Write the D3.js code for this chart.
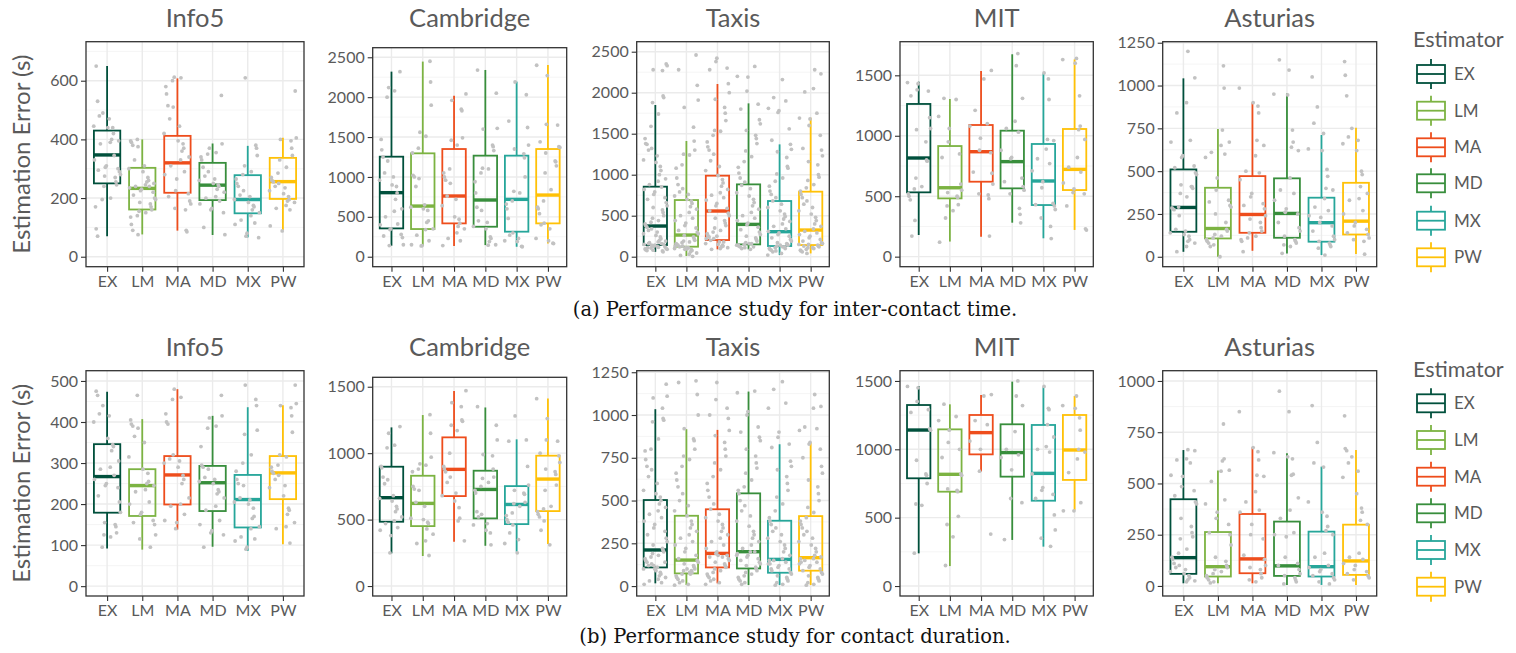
<!DOCTYPE html>
<html>
<head>
<meta charset="utf-8">
<script src="https://cdn.jsdelivr.net/npm/d3@7"></script>
<style>
body { margin: 0; background: #fff; }
svg { display: block; }
</style>
</head>
<body>
<svg id="chart" width="1516" height="653"></svg>
<script>
// estimators and their colours
var estimators = ["EX", "LM", "MA", "MD", "MX", "PW"];
var colors = ["#00503c", "#7cb342", "#ee4d1c", "#388e3c", "#26a69a", "#ffc107"];
var datasets = ["Info5", "Cambridge", "Taxis", "MIT", "Asturias"];

// box stats per estimator: [lower whisker, q1, median, q3, upper whisker]
// (a) inter-contact time
var info5A_box = [[70,250,347,430,650],[76,161,233,303,400],[89,218,320,412,608],[74,193,244,320,386],[66,148,195,278,378],[91,197,256,337,406]];
var cambA_box = [[138,355,803,1254,2320],[134,347,635,1296,2446],[134,418,761,1350,2019],[146,376,711,1267,2341],[125,314,719,1267,2195],[167,418,773,1350,2404]];
var taxisA_box = [[60,142,374,854,1850],[8,122,264,691,1411],[90,203,557,988,2106],[90,150,394,882,1870],[20,130,305,679,1370],[40,142,325,793,1695]];
var mitA_box = [[179,532,816,1263,1447],[125,482,570,915,1304],[165,620,868,1089,1536],[281,565,786,1042,1674],[152,427,626,932,1516],[221,551,722,1056,1632]];
var astA_box = [[29,146,288,510,1042],[0,107,165,403,746],[35,140,247,471,901],[19,111,253,458,954],[10,88,199,345,711],[16,130,208,432,754]];
// (b) contact duration
var info5B_box = [[92,179,267,346,474],[89,171,245,285,407],[138,199,271,317,480],[96,183,252,293,415],[86,143,211,271,436],[102,212,276,317,441]];
var cambB_box = [[246,484,665,898,1194],[226,451,622,830,1287],[334,677,878,1119,1467],[303,509,727,868,1344],[258,466,614,752,1104],[316,564,805,981,1412]];
var taxisB_box = [[16,109,211,503,1034],[6,74,152,411,917],[16,109,191,449,913],[6,103,201,542,1137],[6,78,156,382,829],[6,90,166,409,840]];
var mitB_box = [[239,788,1141,1324,1463],[146,690,817,1146,1329],[837,963,1122,1251,1398],[337,800,976,1183,1495],[288,624,824,1178,1454],[556,776,995,1251,1390]];
var astB_box = [[13,59,138,423,663],[13,46,94,263,563],[13,62,132,351,676],[5,49,98,314,647],[5,46,94,265,582],[5,54,122,299,663]];

// individual observations (jittered grey points)
var info5A_pts = [
  [650,530,490,480,470,445,440,440,420,400,395,390,385,345,330,310,305,300,295,290,280,275,270,255,245,240,200,195,170,95,70],
  [400,395,390,380,375,330,310,300,290,270,260,255,250,245,240,240,235,230,225,220,210,200,195,185,180,170,160,155,150,140,135,110,90,75],
  [612,610,600,580,555,515,510,470,445,420,395,385,370,360,340,330,310,290,280,265,225,215,205,190,180,165,160,90,85],
  [550,385,370,355,350,340,330,305,290,275,265,260,250,245,240,230,220,205,200,190,180,165,160,150,100,75],
  [610,380,370,345,310,290,280,265,250,240,225,210,205,195,185,175,170,160,150,140,125,115,110,80,70,65],
  [565,405,400,395,370,345,330,305,285,270,260,255,250,240,235,225,215,205,195,190,185,175,165,160,105,88]];
var cambA_pts = [
  [2320,2120,2080,2000,1470,1340,1250,1200,1050,1000,960,900,880,800,720,600,570,500,410,400,350,340,280,260,240,150,140],
  [2450,2190,1900,1560,1510,1360,1300,1020,1000,980,880,650,620,600,580,450,430,350,340,270,200,150,140,135],
  [2040,1960,1850,1830,1490,1460,1400,1100,1050,1000,960,920,760,720,640,500,470,420,380,350,300,230,200,140],
  [2340,2050,1610,1600,1400,1380,1330,1110,1100,1050,940,800,620,580,450,430,380,350,250,230,190,150,145],
  [2190,2030,1700,1620,1400,1350,1290,1240,1000,820,800,700,660,600,480,300,270,230,200,190,130,125],
  [2400,2270,1660,1650,1440,1380,1370,1300,1200,1190,1140,1050,840,700,620,600,540,420,400,350,230,200,170,165]];
var taxisA_pts = [
  [2350,2330,2280,2270,1960,1940,1880,1740,1590,1440,1380,1370,1320,1300,1230,1180,1150,1100,1050,1000,950,920,880,850,820,790,760,720,700,660,620,600,570,540,500,470,440,420,400,380,360,340,320,300,280,260,240,220,200,190,180,170,160,150,140,130,120,110,100,90,80,70,60,150,130,115,105,95,85,75,140,160,125],
  [2460,2280,2090,1910,1820,1580,1410,1300,1250,1240,1120,1080,960,880,830,790,760,740,700,680,650,610,580,540,500,470,440,410,380,350,320,300,280,260,240,220,200,190,180,170,160,150,140,130,120,110,100,95,85,75,60,45,30,15,5,130,110,90],
  [2420,2380,2300,2280,2110,2000,1920,1820,1750,1660,1540,1530,1480,1400,1340,1300,1250,1170,1100,1050,990,940,900,860,820,780,750,720,690,650,620,590,560,530,500,470,440,410,380,350,320,300,280,260,240,220,200,180,160,150,140,130,120,110,100,90,180,220,250],
  [2320,2200,2190,2020,1860,1800,1670,1620,1540,1480,1440,1380,1290,1220,1160,1090,1020,960,910,870,830,780,740,700,660,620,580,540,500,470,440,410,390,360,330,300,270,250,230,210,190,170,160,150,140,130,120,110,100,90,140,160,120],
  [2160,1940,1900,1810,1780,1760,1560,1420,1370,1310,1280,1210,1100,1080,1010,960,920,860,800,760,720,680,640,600,560,520,490,460,430,400,370,340,310,290,270,250,230,210,190,170,160,150,140,130,120,110,100,90,80,70,60,40,20,140,120,100],
  [2280,2230,2050,2010,1750,1690,1680,1600,1480,1320,1300,1230,1160,1120,1000,970,930,880,840,800,760,720,680,640,600,560,520,480,440,400,370,340,310,290,270,250,230,210,190,170,160,150,140,130,120,110,100,90,80,70,60,40,130,110,150]];
var mitA_pts = [
  [1440,1430,1380,1370,1330,1150,1060,1050,950,800,790,650,580,560,520,500,470,300,170],
  [1310,1300,1160,1060,950,850,820,600,550,530,500,490,430,420,380,320,120],
  [1540,1470,1210,1100,1080,980,880,860,700,690,600,520,510,480,170],
  [1680,1580,1310,1120,1060,1030,880,820,810,650,620,580,550,520,400,350,280],
  [1520,1470,1300,970,960,890,810,770,710,620,570,440,430,420,390,320,250,150],
  [1640,1630,1600,1330,1080,1050,970,820,740,700,610,560,530,520,420,230,220]];
var astA_pts = [
  [1200,1045,900,840,680,670,590,580,530,520,490,480,420,410,410,400,370,350,290,285,280,275,240,160,150,140,130,120,100,90,80,60,30],
  [1115,985,740,670,650,610,600,580,460,390,330,320,300,290,250,200,160,150,130,120,110,100,90,80,70,60,0],
  [985,900,880,840,680,650,590,500,490,450,370,350,310,300,280,240,220,200,170,150,140,120,110,100,90,30],
  [1150,1090,950,945,740,670,640,620,460,390,370,330,280,260,250,200,170,150,120,100,90,80,70,60,20],
  [1050,875,780,720,630,620,510,470,400,390,340,290,270,240,230,200,180,150,120,100,90,80,70,60,50,10],
  [1140,1060,940,750,700,680,660,620,500,480,410,370,340,330,270,250,200,180,160,140,130,110,100,90,15]];
var info5B_pts = [
  [475,465,440,420,415,400,360,345,340,330,305,290,285,270,260,250,245,240,220,205,180,155,150,145,130,125,120,95],
  [465,405,395,390,385,365,350,315,285,275,255,250,245,235,230,205,200,180,175,160,155,150,125,115,95],
  [480,460,455,420,400,395,320,310,305,300,290,270,260,250,215,200,195,175,160,155,140],
  [465,415,410,390,385,340,295,290,285,265,260,255,250,235,230,225,215,195,185,160,150,135,130,125,95],
  [490,455,440,380,370,320,300,280,260,250,245,215,210,205,200,190,170,165,145,140,120,115,110,95,90],
  [490,445,440,435,415,375,320,315,295,290,280,275,270,260,245,240,220,190,185,175,155,145,140,105]];
var cambB_pts = [
  [1200,1150,1060,1040,900,890,820,800,770,680,660,640,600,580,560,520,490,470,440,420,380,250],
  [1290,1150,970,920,910,880,860,750,730,720,630,600,510,500,480,470,430,390,340,320,230],
  [1470,1380,1350,1250,1240,1210,1170,1000,900,880,860,820,780,700,680,640,590,510,490,340],
  [1350,1210,1100,990,980,880,820,810,780,750,720,700,560,540,520,470,460,420,400,310],
  [1280,1100,1090,900,760,720,700,690,630,620,600,550,530,500,480,460,400,350,320,250],
  [1410,1260,1100,1090,1000,980,930,880,860,840,760,720,600,580,560,540,520,490,420,310]];
var taxisB_pts = [
  [1180,1110,1100,1040,980,970,960,860,800,790,740,700,680,640,600,560,540,520,500,480,460,440,420,400,380,360,340,320,300,280,260,240,220,210,200,190,180,170,160,150,140,130,120,110,100,90,80,70,60,50,40,30,20,10,100,120,140],
  [1200,1190,1120,1000,920,860,850,800,760,740,700,660,620,580,540,500,470,440,410,380,360,340,320,300,280,260,240,220,200,180,160,150,140,130,120,110,100,90,80,70,60,50,40,30,20,10,5,100,90,80,70],
  [1190,1090,1040,1000,980,910,880,840,800,760,720,680,640,600,560,520,480,450,420,400,380,360,340,320,300,280,260,240,220,200,190,180,170,160,150,140,130,120,110,100,90,80,70,60,50,40,30,20,10,180,170],
  [1140,1130,1020,1000,930,900,870,850,800,760,720,690,660,620,580,560,540,500,470,440,410,380,350,320,300,280,260,240,220,200,190,180,170,160,150,140,130,120,110,100,90,80,70,60,50,40,30,20,10,200,180],
  [1195,1150,1070,1040,900,870,830,810,730,700,680,640,600,560,520,480,440,400,380,360,340,320,300,280,260,240,220,200,180,160,150,140,130,120,110,100,90,80,70,60,50,40,30,20,10,5,150,130,100],
  [1120,1050,1040,930,920,910,840,830,800,750,700,660,620,580,540,500,460,430,400,380,360,340,320,300,280,260,240,220,200,180,170,160,150,140,130,120,110,100,90,80,70,60,50,40,30,20,10,5,160,140]];
var mitB_pts = [
  [1460,1450,1350,1290,1270,1150,1140,920,820,810,750,600,590,240],
  [1330,1240,1210,1140,1050,1000,940,820,810,710,700,690,510,450,360,150],
  [1400,1390,1210,1180,1060,1000,840,380],
  [1500,1390,1320,1130,1000,960,940,850,640,610,340],
  [1460,1300,1290,1180,1090,1020,1000,980,820,720,700,670,640,520,410,350,290],
  [1390,1320,1300,1230,1140,1000,980,930,830,610,550,550]];
var astB_pts = [
  [665,660,620,615,600,540,535,485,465,440,410,400,330,290,260,240,230,180,160,140,130,110,100,90,80,70,60,50,40,30,25,20],
  [790,620,610,565,560,510,420,400,360,330,300,260,250,200,140,120,100,90,80,70,60,50,40,30,20,15],
  [850,675,655,615,540,535,460,410,370,360,300,250,230,150,130,100,90,80,60,40,30,20],
  [950,850,650,630,620,545,540,430,370,330,260,250,240,140,110,100,80,60,50,40,30,20,10],
  [880,700,600,580,410,360,340,290,270,250,160,140,100,90,80,70,60,50,40,30,20,10],
  [830,670,660,630,600,560,530,450,380,360,320,300,160,140,130,110,100,80,70,60,50,40,30]];

// y tick steps per panel
var tickStepA = [200, 500, 500, 500, 250];
var tickStepB = [100, 500, 250, 500, 250];
// y scale limits per panel (as in the original plots)
var limitsA = [[-34, 733], [-125, 2620], [-122, 2622], [-83, 1778], [-58, 1256]];
var limitsB = [[-24, 525], [-75, 1571], [-58, 1259], [-73, 1575], [-49, 1050]];

// layout
var panelX = [[86, 304], [372.7, 566.7], [636.7, 829.3], [900, 1093.3], [1162.7, 1376.7]];
var rows = [
    { boxes: [info5A_box, cambA_box, taxisA_box, mitA_box, astA_box],
      pts: [info5A_pts, cambA_pts, taxisA_pts, mitA_pts, astA_pts],
      limits: limitsA, steps: tickStepA,
      tops: [41.7, 47.7, 41.7, 41.7, 41.7], bottom: 266.7, titleY: 27,
      caption: "(a)  Performance study for inter-contact time.", captionY: 316,
      legendTitleY: 47, legendY: [74, 110.7, 147.3, 183.3, 220.7, 257.3] },
    { boxes: [info5B_box, cambB_box, taxisB_box, mitB_box, astB_box],
      pts: [info5B_pts, cambB_pts, taxisB_pts, mitB_pts, astB_pts],
      limits: limitsB, steps: tickStepB,
      tops: [370.7, 377.3, 370.7, 370.7, 370.7], bottom: 596, titleY: 356,
      caption: "(b)  Performance study for contact duration.", captionY: 643,
      legendTitleY: 377, legendY: [403.3, 440, 476.7, 513.3, 550, 586.7] }
];

var jitter = [-0.31, 0.18, -0.05, 0.27, -0.22, 0.09, 0.35, -0.14, 0.02, -0.36, 0.23, -0.27, 0.13, 0.31,
              -0.09, 0.06, -0.19, 0.38, -0.33, 0.16, -0.02, 0.25, -0.12, 0.33, -0.25, 0.1, -0.38, 0.2, -0.07];

var FONT = "Lato, 'Open Sans', sans-serif";
var TEXT_COL = "#5a5a5a";
var svg = d3.select("#chart");

rows.forEach(function(row, r) {
    datasets.forEach(function(name, p) {
        var left = panelX[p][0], right = panelX[p][1];
        var top = row.tops[p], bottom = row.bottom;
        var lim = row.limits[p], step = row.steps[p];

        var x = d3.scalePoint().domain(estimators).range([left, right]).padding(0.6);
        var y = d3.scaleLinear().domain(lim).range([bottom, top]);
        var bw = x.step() * 0.75;

        var majors = d3.range(0, lim[1] + 1e-6, step);
        var minors = majors.map(function(v) { return v + step / 2; })
            .filter(function(v) { return v <= lim[1]; });

        var g = svg.append("g");

        g.append("rect").attr("x", left).attr("y", top)
            .attr("width", right - left).attr("height", bottom - top).attr("fill", "#fff");

        // grid
        g.selectAll(".minor").data(minors).enter().append("line")
            .attr("x1", left).attr("x2", right)
            .attr("y1", function(d) { return y(d); }).attr("y2", function(d) { return y(d); })
            .style("stroke", "#f2f2f2").style("stroke-width", 0.8);
        g.selectAll(".major").data(majors).enter().append("line")
            .attr("x1", left).attr("x2", right)
            .attr("y1", function(d) { return y(d); }).attr("y2", function(d) { return y(d); })
            .style("stroke", "#ebebeb").style("stroke-width", 1.4);
        g.selectAll(".vgrid").data(estimators).enter().append("line")
            .attr("x1", function(d) { return x(d); }).attr("x2", function(d) { return x(d); })
            .attr("y1", top).attr("y2", bottom)
            .style("stroke", "#ebebeb").style("stroke-width", 1.4);

        // boxplots
        var boxes = row.boxes[p];
        estimators.forEach(function(e, b) {
            var s = boxes[b], cx = x(e), col = colors[b];
            g.append("line").attr("x1", cx).attr("x2", cx)
                .attr("y1", y(s[0])).attr("y2", y(s[1]))
                .style("stroke", col).style("stroke-width", 1.8);
            g.append("line").attr("x1", cx).attr("x2", cx)
                .attr("y1", y(s[3])).attr("y2", y(s[4]))
                .style("stroke", col).style("stroke-width", 1.8);
            g.append("rect").attr("x", cx - bw / 2).attr("y", y(s[3]))
                .attr("width", bw).attr("height", y(s[1]) - y(s[3]))
                .style("fill", "none").style("stroke", col).style("stroke-width", 1.8);
            g.append("line").attr("x1", cx - bw / 2).attr("x2", cx + bw / 2)
                .attr("y1", y(s[2])).attr("y2", y(s[2]))
                .style("stroke", col).style("stroke-width", 3.4);
        });

        // jittered observations
        var pts = row.pts[p];
        estimators.forEach(function(e, b) {
            g.selectAll(null).data(pts[b]).enter().append("circle")
                .attr("cx", function(d, i) { return x(e) + jitter[(i * 11 + b * 7 + p * 3) % jitter.length] * x.step(); })
                .attr("cy", function(d) { return y(d); })
                .attr("r", 1.9)
                .style("fill", "#c2c2c2");
        });

        // border
        g.append("rect").attr("x", left).attr("y", top)
            .attr("width", right - left).attr("height", bottom - top)
            .style("fill", "none").style("stroke", "#333").style("stroke-width", 1.3);

        // axes
        var ya = g.append("g").attr("transform", "translate(" + left + ",0)")
            .call(d3.axisLeft(y).tickValues(majors).tickFormat(d3.format("d"))
                .tickSize(5).tickPadding(3).tickSizeOuter(0));
        var xa = g.append("g").attr("transform", "translate(0," + bottom + ")")
            .call(d3.axisBottom(x).tickSize(5).tickPadding(4).tickSizeOuter(0));
        [ya, xa].forEach(function(a) {
            a.select(".domain").remove();
            a.selectAll(".tick line").style("stroke", "#333").style("stroke-width", 1.1);
            a.selectAll(".tick text").style("font-family", FONT).style("font-size", "16px").style("fill", TEXT_COL);
        });

        // panel title
        g.append("text").attr("x", (left + right) / 2).attr("y", row.titleY)
            .attr("text-anchor", "middle")
            .style("font-family", FONT).style("font-size", "25.5px").style("fill", TEXT_COL)
            .text(name);
    });

    // y axis title
    svg.append("text")
        .attr("transform", "translate(22," + ((row.tops[0] + row.bottom) / 2) + ") rotate(-90)")
        .attr("text-anchor", "middle").attr("dy", "0.35em")
        .style("font-family", FONT).style("font-size", "24px").style("fill", TEXT_COL)
        .text("Estimation Error (s)");

    // caption
    svg.append("text").attr("x", 795).attr("y", row.captionY)
        .attr("text-anchor", "middle")
        .style("font-family", "'DejaVu Serif', serif").style("font-size", "19.5px").style("fill", "#111")
        .text(row.caption);

    // legend
    svg.append("text").attr("x", 1413).attr("y", row.legendTitleY)
        .style("font-family", FONT).style("font-size", "21.5px").style("fill", TEXT_COL)
        .text("Estimator");
    estimators.forEach(function(e, b) {
        var cy = row.legendY[b], col = colors[b];
        var lg = svg.append("g");
        lg.append("line").attr("x1", 1431).attr("x2", 1431).attr("y1", cy - 15).attr("y2", cy + 15)
            .style("stroke", col).style("stroke-width", 1.8);
        lg.append("rect").attr("x", 1417).attr("y", cy - 9).attr("width", 28).attr("height", 18)
            .style("fill", "#fff").style("stroke", col).style("stroke-width", 1.8);
        lg.append("line").attr("x1", 1417).attr("x2", 1445).attr("y1", cy).attr("y2", cy)
            .style("stroke", col).style("stroke-width", 1.8);
        lg.append("text").attr("x", 1454).attr("y", cy + 6)
            .style("font-family", FONT).style("font-size", "17px").style("fill", TEXT_COL)
            .text(e);
    });
});
</script>
</body>
</html>
